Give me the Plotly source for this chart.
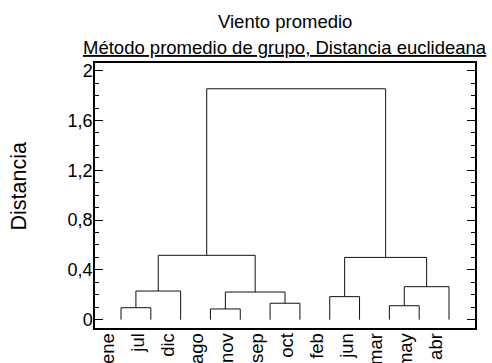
import plotly.graph_objects as go

# ---- data ----
labels = ["ene", "jul", "dic", "ago", "nov", "sep", "oct", "feb", "jun", "mar", "may", "abr"]
# linkage rows: (left node, right node, merge distance); leaves are 0..11 in display order
link_left = [3, 0, 9, 5, 7, 12, 13, 14, 16, 18, 21]
link_right = [4, 1, 10, 6, 8, 15, 2, 11, 19, 17, 20]
link_height = [0.086, 0.096, 0.112, 0.132, 0.185, 0.222, 0.23, 0.265, 0.50, 0.517, 1.855]
y_ticks = [0, 0.4, 0.8, 1.2, 1.6, 2.0]

# ---- dendrogram geometry from linkage ----
n = len(labels)
pos = {i: i + 1 for i in range(n)}
hgt = {i: 0.0 for i in range(n)}
xs, ys = [], []
for k, (a, b, h) in enumerate(zip(link_left, link_right, link_height)):
    node = n + k
    xa, xb = pos[a], pos[b]
    xs += [xa, xa, xb, xb, None]
    ys += [hgt[a], h, h, hgt[b], None]
    pos[node] = (xa + xb) / 2
    hgt[node] = h

font_family = "Arial, Liberation Sans, sans-serif"

fig = go.Figure()
fig.add_trace(go.Scatter(x=xs, y=ys, mode="lines",
                         line=dict(color="#111111", width=1),
                         hoverinfo="skip", showlegend=False))

fig.update_layout(
    template="none",
    width=492, height=363,
    margin=dict(l=95, r=17, t=63, b=35, pad=0),
    paper_bgcolor="white", plot_bgcolor="white",
    separators=",.",
    font=dict(family=font_family, color="black", size=18),
    showlegend=False,
    annotations=[
        dict(text="Viento promedio", xref="paper", yref="paper",
             x=0.5, y=1.155, xanchor="center", yanchor="middle",
             showarrow=False, font=dict(size=18.5, family=font_family)),
        dict(text="<u>Método promedio de grupo, Distancia euclideana</u>",
             xref="paper", yref="paper", x=0.5, y=1.06,
             xanchor="center", yanchor="middle",
             showarrow=False, font=dict(size=18.5, family=font_family)),
        dict(text="Distancia", xref="paper", yref="paper",
             x=(18 - 95) / 380, y=(328 - 186.5) / 265,
             xanchor="center", yanchor="middle", textangle=-90,
             showarrow=False, font=dict(size=21.5, family=font_family)),
    ],
)

fig.update_xaxes(
    range=[0.128, 12.872],
    tickmode="array",
    tickvals=list(range(1, n + 1)),
    ticktext=labels,
    tickangle=-90,
    ticks="",
    ticklabelshift=-13,
    ticklabelstandoff=-4,
    showgrid=False, zeroline=False,
    showline=True, linecolor="black", linewidth=1.5, mirror=True,
    automargin=False,
    tickfont=dict(size=18.5, family=font_family),
)
fig.update_yaxes(
    range=[-0.067, 2.062],
    tickmode="array",
    tickvals=y_ticks,
    ticks="inside", ticklen=8, tickwidth=1, tickcolor="black",
    minor=dict(dtick=0.1, tick0=0, ticks="inside", ticklen=4, tickwidth=1, tickcolor="black"),
    ticklabelstandoff=-3,
    showgrid=False, zeroline=False,
    showline=True, linecolor="black", linewidth=1.5, mirror="ticks",
    automargin=False,
    tickfont=dict(size=18, family=font_family),
)

fig.write_html("out.html",
               config={"displayModeBar": False},
               post_script="document.body.style.margin='0';document.body.style.overflow='hidden';")
